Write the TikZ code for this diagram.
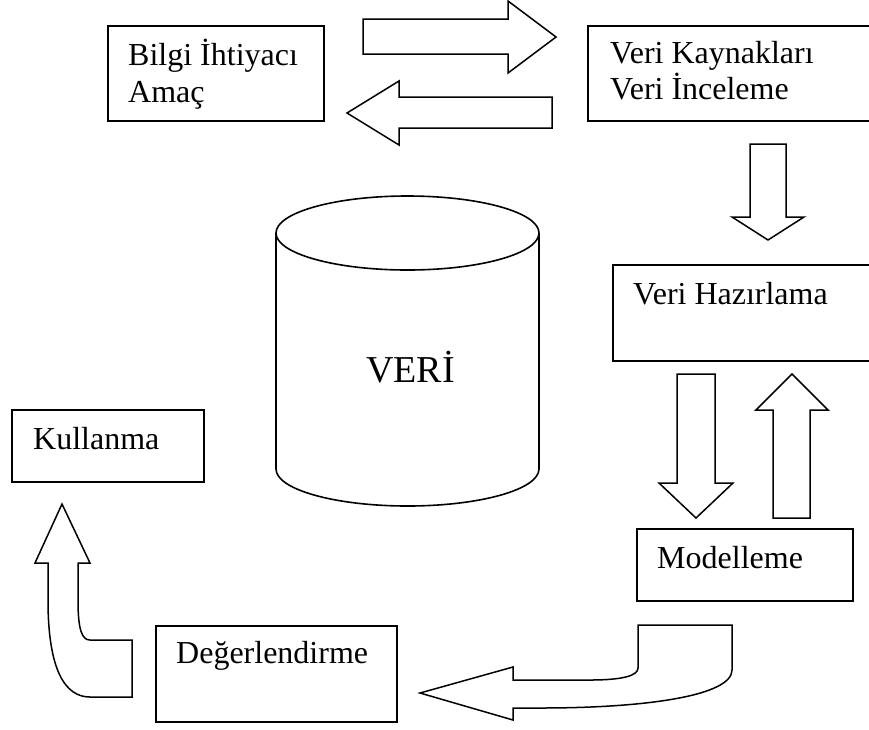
\documentclass[tikz,border=0pt]{standalone}
\usepackage{fontspec}
\setmainfont{Liberation Serif}
\begin{document}
\begin{tikzpicture}[x=1pt,y=-1pt,
  line join=miter,
  box/.style={draw, line width=1.6pt, rectangle, anchor=north west, inner sep=0pt},
  txt/.style={anchor=base west, inner sep=0pt, font=\fontsize{32}{38}\selectfont},
  blockarrow/.style={draw, line width=1.5pt, fill=white}]
\clip (0,0) rectangle (869,729);
\fill[white] (0,0) rectangle (869,729);

% process boxes
\node[box, minimum width=216pt, minimum height=95pt] (bilgi) at (107,25) {};
\node[box, minimum width=320pt, minimum height=95pt] (kaynak) at (587,25) {};
\node[box, minimum width=300pt, minimum height=96pt] (hazir) at (612,264) {};
\node[box, minimum width=216pt, minimum height=72pt] (model) at (636,528) {};
\node[box, minimum width=192pt, minimum height=72pt] (kullan) at (11,409) {};
\node[box, minimum width=241pt, minimum height=96pt] (deger) at (155,625) {};

% box texts
\node[txt] (bilgi1) at (128,65) {Bilgi İhtiyacı};
\node[txt] (bilgi2) at (128,102) {Amaç};
\node[txt] (kaynak1) at (610,63) {Veri Kaynakları};
\node[txt] (kaynak2) at (610,99) {Veri İnceleme};
\node[txt] (hazir1) at (633,304) {Veri Hazırlama};
\node[txt] (model1) at (657,568) {Modelleme};
\node[txt] (kullan1) at (33,449) {Kullanma};
\node[txt] (deger1) at (176,663) {Değerlendirme};

% data cylinder
\draw[line width=1.6pt] (276,233) -- (276,469)
  .. controls (276,489.4) and (334.9,506) .. (407.5,506)
  .. controls (480.1,506) and (539,489.4) .. (539,469) -- (539,233);
\draw[line width=1.6pt] (407.5,233) ellipse [x radius=131.5, y radius=37];
\node[anchor=base, inner sep=0pt, font=\fontsize{38}{44}\selectfont] (veri) at (410.5,382) {VERİ};

% block arrows between the stages
\draw[blockarrow] (363,19) -- (508,19) -- (508,1) -- (556,37) -- (508,73) -- (508,54) -- (363,54) -- cycle;
\draw[blockarrow] (552,97) -- (399,97) -- (399,81) -- (347,113) -- (399,145) -- (399,128) -- (552,128) -- cycle;
\draw[blockarrow] (750,144) -- (786,144) -- (786,217) -- (804,217) -- (768,240) -- (732,217) -- (750,217) -- cycle;
\draw[blockarrow] (677,374) -- (715,374) -- (715,483) -- (733,483) -- (696,518) -- (659,483) -- (677,483) -- cycle;
\draw[blockarrow] (773,518) -- (773,410) -- (756,410) -- (792,374) -- (828,410) -- (810,410) -- (810,518) -- cycle;

% curved arrow from modelling to evaluation
\draw[blockarrow] (420,693) -- (513,667) -- (513,680) -- (590,680)
  .. controls (625,680) and (638,675) .. (638,668) -- (638,625) -- (732,625) -- (732,670)
  .. controls (732,695) and (650,708) .. (540,708) -- (513,708) -- (513,720) -- cycle;

% curved arrow from evaluation to usage
\draw[blockarrow] (62,504) -- (90,563) -- (78,563) -- (78,600)
  .. controls (78,630) and (82,640) .. (90,640) -- (132,640) -- (132,697) -- (90,697)
  .. controls (65,697) and (48,670) .. (48,600) -- (48,563) -- (35,563) -- cycle;
\end{tikzpicture}
\end{document}
